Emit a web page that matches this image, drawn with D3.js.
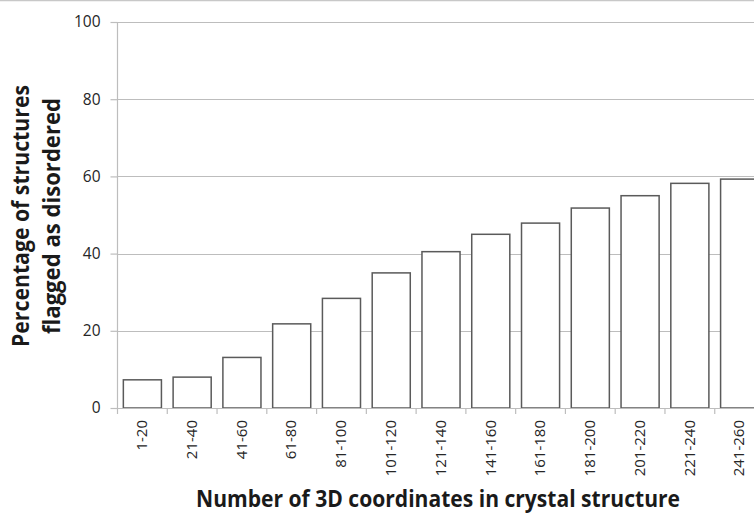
<!DOCTYPE html>
<html><head><meta charset="utf-8">
<script src="https://cdn.jsdelivr.net/npm/d3@7"></script>
<style>html,body{margin:0;padding:0;background:#fff;overflow:hidden}</style>
</head><body>
<svg id="c" width="754" height="514"></svg>
<script>
const categories = ["1-20","21-40","41-60","61-80","81-100","101-120","121-140","141-160","161-180","181-200","201-220","221-240","241-260"];
const values = [7.3, 8.0, 13.1, 21.8, 28.4, 35.0, 40.5, 45.0, 47.9, 51.8, 55.0, 58.2, 59.3];
const yTicks = [0, 20, 40, 60, 80, 100];
const xTitle = "Number of 3D coordinates in crystal structure";
const yTitle = ["Percentage of structures", "flagged as disordered"];

const svg = d3.select("#c");
const mLeft = 117, mTop = 22, mBottom = 408;
const band = 49.77;
const mRight = mLeft + band * categories.length;

svg.append("line").attr("x1",0).attr("x2",754).attr("y1",0.5).attr("y2",0.5).attr("stroke","#c8c8c8").attr("stroke-width",1.5);

const x = d3.scaleBand().domain(categories).range([mLeft, mRight]).paddingInner(0.235).paddingOuter(0.1175);
const y = d3.scaleLinear().domain([0, 100]).range([mBottom, mTop]);

// gridlines
svg.append("g").selectAll("line").data(yTicks.filter(d=>d>0)).join("line")
  .attr("x1", mLeft).attr("x2", mRight).attr("y1", d=>Math.round(y(d))+0.5).attr("y2", d=>Math.round(y(d))+0.5)
  .attr("stroke","#bdbdbd").attr("stroke-width",1.2);

// y axis
const yAxis = svg.append("g").attr("transform",`translate(${mLeft+0.5},0)`)
  .call(d3.axisLeft(y).tickValues(yTicks).tickSize(7).tickPadding(10));
yAxis.select(".domain").attr("stroke","#bdbdbd").attr("stroke-width",1.2).attr("d",`M0,${mTop}V${mBottom}`);
yAxis.selectAll(".tick line").attr("stroke","#bdbdbd").attr("stroke-width",1.2);
yAxis.selectAll(".tick text").attr("font-family","'Open Sans', sans-serif").attr("font-size",15.5).attr("fill","#262626");

// bars
svg.append("g").selectAll("rect").data(values).join("rect")
  .attr("x",(d,i)=>x(categories[i])+0.5).attr("width",x.bandwidth())
  .attr("y",d=>y(d)).attr("height",d=>mBottom-y(d))
  .attr("fill","#fff").attr("stroke","#5a5a5a").attr("stroke-width",1.5);

// x axis
const boundaries = d3.range(categories.length+1).map(i=>mLeft+i*band);
svg.append("line").attr("x1",mLeft).attr("x2",mRight).attr("y1",mBottom+0.5).attr("y2",mBottom+0.5).attr("stroke","#bdbdbd").attr("stroke-width",1.2);
svg.append("g").selectAll("line").data(boundaries).join("line")
  .attr("x1",d=>d+0.5).attr("x2",d=>d+0.5).attr("y1",mBottom).attr("y2",mBottom+6)
  .attr("stroke","#bdbdbd").attr("stroke-width",1.2);

const xAxis = svg.append("g").attr("transform",`translate(0,${mBottom})`)
  .call(d3.axisBottom(x).tickSize(0).tickPadding(0));
xAxis.select(".domain").remove();
xAxis.selectAll(".tick text")
  .attr("transform","rotate(-90)")
  .attr("x",-12).attr("y",0).attr("dy","0.35em")
  .attr("text-anchor","end")
  .attr("font-family","'Open Sans', sans-serif").attr("font-size",15).attr("fill","#262626");

// titles
svg.append("text").attr("x",438).attr("y",507).attr("text-anchor","middle")
  .attr("font-family","'Open Sans', sans-serif").attr("font-weight","bold").attr("font-size",24).attr("fill","#1a1a1a")
  .attr("textLength",484).attr("lengthAdjust","spacingAndGlyphs").text(xTitle);

const yt = svg.append("text").attr("transform","translate(0,216) rotate(-90)")
  .attr("text-anchor","middle").attr("font-family","'Open Sans', sans-serif").attr("font-weight","bold").attr("font-size",23).attr("fill","#1a1a1a");
yt.append("tspan").attr("x",0).attr("y",29).attr("textLength",262).attr("lengthAdjust","spacingAndGlyphs").text(yTitle[0]);
yt.append("tspan").attr("x",0).attr("y",60).attr("textLength",236).attr("lengthAdjust","spacingAndGlyphs").text(yTitle[1]);
</script>
</body></html>
